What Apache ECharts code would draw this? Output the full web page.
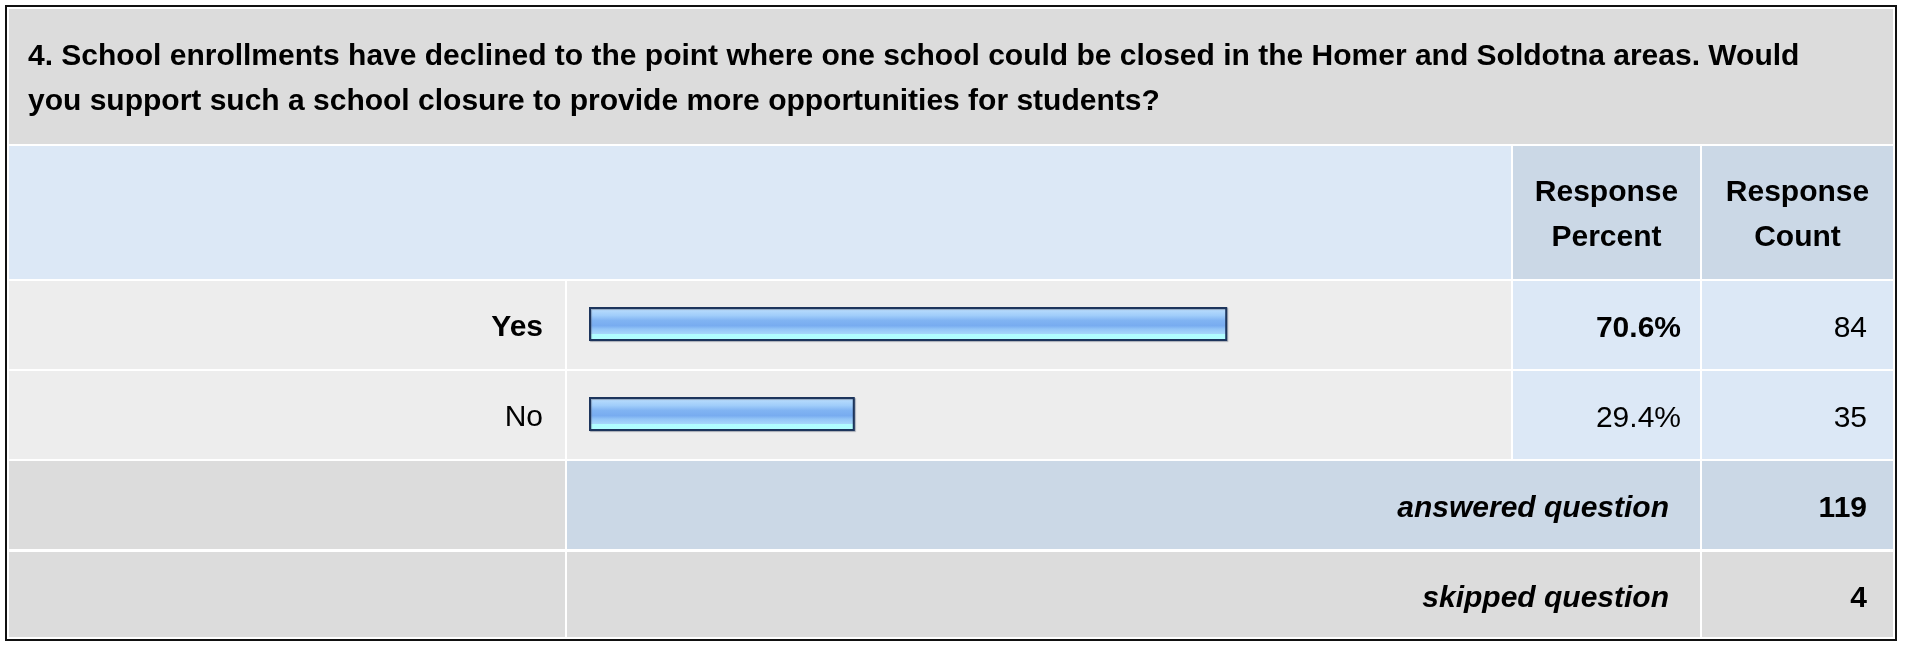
<!DOCTYPE html>
<html>
<head>
<meta charset="utf-8">
<script src="https://cdn.jsdelivr.net/npm/echarts@6/dist/echarts.min.js"></script>
<style>
html,body{margin:0;padding:0;background:#fff;}
#chart{width:1915px;height:645px;}
</style>
</head>
<body>
<div id="chart"></div>
<script>
// ---- data ----
const titleLines = [
  '4. School enrollments have declined to the point where one school could be closed in the Homer and Soldotna areas. Would',
  'you support such a school closure to provide more opportunities for students?'
];
const headerLabels = ['Response\nPercent', 'Response\nCount'];
const categories = ['Yes', 'No'];
const percents = [70.6, 29.4];
const counts = [84, 35];
const summaryLabels = ['answered question', 'skipped question'];
const summaryValues = [119, 4];

// ---- layout ----
const FONT = '"Liberation Sans", Arial, sans-serif';
const X = { l0: 9, l1: 565, b0: 567, b1: 1511, p0: 1513, p1: 1700, c0: 1702, c1: 1893 };
const Y = { t0: 9, t1: 144, h0: 146, h1: 279, r0: 281, rowH: 90, s0: 461 };
const BODY = 30;
const DY = 4; // text baseline offset inside rows

function rect(x0, y0, x1, y1, fill) {
  return { type: 'rect', z: 0, silent: true, shape: { x: x0, y: y0, width: x1 - x0, height: y1 - y0 }, style: { fill: fill } };
}
function text(str, x, y, align, opts) {
  return Object.assign({ type: 'text', z: 10, silent: true, x: x, y: y,
    style: Object.assign({ text: str, fill: '#000', font: 'normal ' + BODY + 'px ' + FONT, align: align, verticalAlign: 'middle' }, opts || {}) });
}

const G = [];
G.push({ type: 'rect', z: 0, silent: true, shape: { x: 6, y: 6, width: 1890, height: 634 }, style: { fill: '#fff', stroke: '#111', lineWidth: 2 } });
// title
G.push(rect(X.l0, Y.t0, X.c1, Y.t1, '#dcdcdc'));
G.push(text(titleLines.join('\n'), 28, 79, 'left', { font: 'bold ' + BODY + 'px ' + FONT, lineHeight: 45 }));
// header
G.push(rect(X.l0, Y.h0, X.b1, Y.h1, '#dce8f6'));
G.push(rect(X.p0, Y.h0, X.p1, Y.h1, '#cbd8e6'));
G.push(rect(X.c0, Y.h0, X.c1, Y.h1, '#cbd8e6'));
G.push(text(headerLabels[0], (X.p0 + X.p1) / 2, (Y.h0 + Y.h1) / 2 + 3, 'center', { font: 'bold ' + BODY + 'px ' + FONT, lineHeight: 45 }));
G.push(text(headerLabels[1], (X.c0 + X.c1) / 2, (Y.h0 + Y.h1) / 2 + 3, 'center', { font: 'bold ' + BODY + 'px ' + FONT, lineHeight: 45 }));
// answer rows
categories.forEach(function (c, i) {
  const y0 = Y.r0 + i * Y.rowH, y1 = y0 + Y.rowH - 2;
  const bold = percents[i] === Math.max.apply(null, percents);
  G.push(rect(X.l0, y0, X.l1, y1, '#ededed'));
  G.push(rect(X.b0, y0, X.b1, y1, '#ededed'));
  G.push(rect(X.p0, y0, X.p1, y1, '#dce8f6'));
  G.push(rect(X.c0, y0, X.c1, y1, '#dce8f6'));
  G.push(text(percents[i].toFixed(1) + '%', 1681, (y0 + y1) / 2 + DY, 'right', { font: (bold ? 'bold ' : 'normal ') + BODY + 'px ' + FONT }));
  G.push(text(String(counts[i]), 1867, (y0 + y1) / 2 + DY, 'right'));
});
// summary rows
summaryLabels.forEach(function (s, i) {
  const y0 = Y.s0 + i * (Y.rowH + 1), y1 = i === 0 ? y0 + Y.rowH - 2 : 637;
  const mid = i === 0 ? '#cbd8e6' : '#dcdcdc';
  G.push(rect(X.l0, y0, X.l1, y1, '#dcdcdc'));
  G.push(rect(X.b0, y0, X.p1, y1, mid));
  G.push(rect(X.c0, y0, X.c1, y1, mid));
  G.push(text(s, 1669, (y0 + y1) / 2 + DY, 'right', { font: 'italic bold ' + BODY + 'px ' + FONT }));
  G.push(text(String(summaryValues[i]), 1867, (y0 + y1) / 2 + DY, 'right', { font: 'bold ' + BODY + 'px ' + FONT }));
});

const chart = echarts.init(document.getElementById('chart'), null, { renderer: 'canvas' });
chart.setOption({
  backgroundColor: '#fff',
  animation: false,
  graphic: { elements: G },
  grid: { left: 589, width: 904, top: 279, height: Y.rowH * 2, containLabel: false },
  xAxis: { type: 'value', min: 0, max: 100, show: false },
  yAxis: {
    type: 'category', data: categories, inverse: true, z: 20,
    axisLine: { show: false }, axisTick: { show: false }, splitLine: { show: false },
    axisLabel: {
      margin: 46, color: '#000', padding: [8, 0, 0, 0],
      formatter: function (v, i) { return (i === 0 ? '{b|' : '{n|') + v + '}'; },
      rich: {
        b: { fontFamily: FONT, fontSize: BODY, fontWeight: 'bold', color: '#000' },
        n: { fontFamily: FONT, fontSize: BODY, fontWeight: 'normal', color: '#000' }
      }
    }
  },
  series: [{
    type: 'bar', z: 20, barWidth: 34, data: percents,
    itemStyle: {
      borderColor: '#1d355c', borderWidth: 2,
      shadowColor: 'rgba(90,100,120,0.45)', shadowOffsetX: 1, shadowOffsetY: 1, shadowBlur: 1,
      color: {
        type: 'linear', x: 0, y: 0, x2: 0, y2: 1,
        colorStops: [
          { offset: 0, color: '#d0e8ff' },
          { offset: 0.1, color: '#b4dafc' },
          { offset: 0.25, color: '#a0cdfa' },
          { offset: 0.4, color: '#80b3f2' },
          { offset: 0.55, color: '#78acf0' },
          { offset: 0.65, color: '#93c5f7' },
          { offset: 0.78, color: '#a5d5fa' },
          { offset: 0.8, color: '#b0fdff' },
          { offset: 1, color: '#b2ffff' }
        ]
      }
    }
  }]
});
</script>
</body>
</html>
